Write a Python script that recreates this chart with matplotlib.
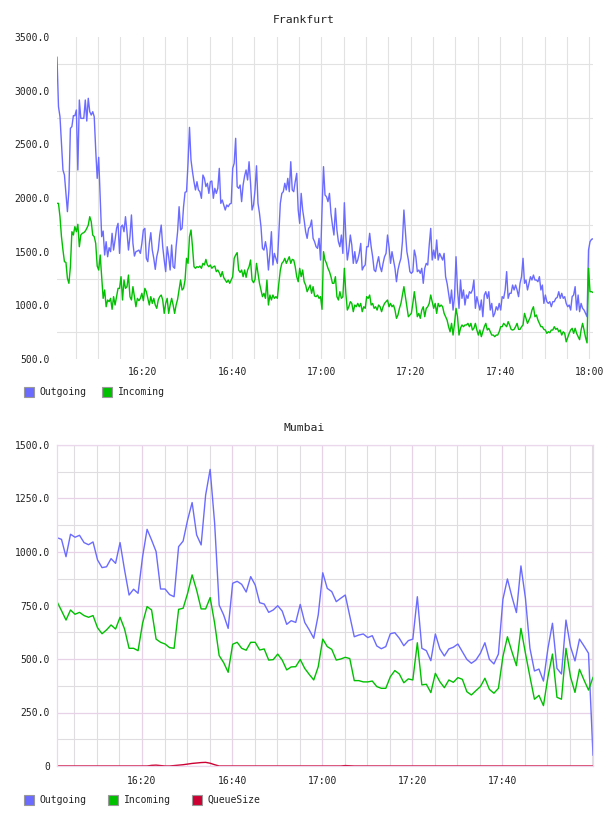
import numpy as np
import pandas as pd
import matplotlib
matplotlib.use("Agg")
import matplotlib.pyplot as plt
import matplotlib.dates as mdates
from matplotlib.patches import Rectangle
from matplotlib.ticker import FixedLocator, FuncFormatter

# ---------------- data ----------------
fr_title = "Frankfurt"
mb_title = "Mumbai"
series_names = ["Outgoing", "Incoming", "QueueSize"]

fr_start = "2000-01-01 16:00:48"   # 20 s samples
fr_out = [
    3311,2851,2758,2509,2261,2214,2043,1873,2075,2649,
    2665,2767,2767,2820,2261,2913,2742,2742,2742,2913,
    2717,2929,2804,2773,2804,2758,2447,2183,2379,2012,
    1640,1692,1469,1593,1453,1537,1500,1671,1515,1609,
    1717,1764,1484,1733,1748,1686,1826,1686,1515,1640,
    1842,1577,1459,1500,1506,1515,1484,1577,1702,1717,
    1438,1407,1577,1677,1515,1438,1335,1453,1515,1655,
    1748,1546,1422,1314,1546,1453,1329,1562,1360,1345,
    1546,1686,1919,1702,1717,1919,2053,2059,2323,2658,
    2354,2245,2152,2075,2152,2075,2059,1997,2214,2183,
    2106,2137,2043,2152,2158,1997,2090,2043,2090,2276,
    1950,1981,1935,1888,1935,1919,1944,1950,2276,2323,
    2556,2106,2090,2121,1966,2121,2205,2261,2168,2338,
    2137,1888,1935,2075,2300,1950,1857,1733,1531,1515,
    1593,1515,1329,1484,1686,1376,1484,1438,1391,1671,
    1950,2043,2059,2137,2075,2183,2059,2338,2075,2059,
    2152,2230,1888,1764,2043,1888,1795,1686,1624,1717,
    1733,1795,1624,1593,1546,1531,1624,1422,1888,2292,
    2028,2012,1966,2043,1857,1748,1655,1904,1702,1593,
    1546,1655,1484,1956,1640,1422,1515,1655,1562,1391,
    1500,1391,1422,1484,1577,1329,1360,1376,1546,1546,
    1671,1546,1453,1329,1314,1391,1453,1360,1314,1391,
    1453,1484,1655,1546,1391,1500,1422,1345,1220,1329,
    1391,1438,1593,1888,1686,1500,1422,1314,1298,1314,
    1515,1453,1314,1329,1298,1345,1205,1345,1391,1376,
    1562,1717,1422,1515,1438,1609,1422,1484,1453,1422,
    1484,1267,1205,1112,1018,1143,956,1081,1453,1143,
    972,1236,1065,1143,1003,1096,1065,1127,1112,1143,
    1236,972,1081,1018,956,1050,894,1096,1127,1065,
    1127,956,1018,894,925,987,956,1018,956,1081,
    1065,1143,1314,1065,1112,1112,1189,1143,1189,1143,
    1081,1205,1267,1438,1205,1236,1143,1205,1267,1236,
    1282,1236,1236,1220,1267,1143,1189,1018,1096,1034,
    1018,1034,987,1034,1034,1065,1074,1127,1065,1112,
    1065,1081,1018,987,1003,956,1081,1096,1174,956,
    1096,941,1018,972,956,925,894,1515,1593,1615,
    1620,
]
fr_in = [
    1950,1950,1826,1640,1515,1407,1400,1251,1205,1360,
    1686,1655,1733,1686,1755,1546,1655,1671,1677,1692,
    1717,1748,1826,1779,1655,1640,1577,1366,1329,1469,
    1267,1065,1143,987,1050,1034,1065,963,1081,1003,
    1081,1158,1158,1267,1050,1236,1158,1174,1282,1081,
    1050,1174,1081,987,1065,1043,1065,1112,1043,1158,
    1127,1065,1003,1081,1018,1065,1003,972,1050,1081,
    1096,1050,925,1018,1065,925,1003,1065,1003,925,
    1003,1056,1143,1236,1143,1158,1236,1438,1391,1640,
    1702,1546,1360,1345,1360,1354,1366,1345,1391,1376,
    1428,1376,1360,1376,1345,1360,1366,1314,1329,1304,
    1267,1314,1258,1236,1214,1236,1205,1236,1267,1438,
    1469,1491,1329,1307,1329,1267,1329,1261,1329,1360,
    1422,1236,1211,1242,1391,1298,1205,1143,1081,1112,
    1065,1236,1003,1096,1050,1096,1065,1081,1065,1205,
    1329,1391,1407,1438,1391,1422,1453,1391,1428,1422,
    1360,1267,1220,1345,1267,1329,1220,1189,1127,1158,
    1189,1112,1174,1087,1081,1096,1065,1081,963,1500,
    1422,1391,1345,1314,1267,1205,1205,1267,1081,1050,
    1127,1065,1081,1345,1112,956,987,1034,1018,941,
    1003,987,1018,987,1018,941,987,972,1081,1065,
    1096,1003,1018,972,987,956,1003,987,941,987,
    1018,1034,1050,987,1018,987,1003,956,879,910,
    972,1018,1096,1174,1081,987,894,910,925,1018,
    1127,1018,894,925,879,956,987,894,972,987,
    1018,1096,1034,972,1018,925,1018,987,1003,987,
    925,894,863,801,754,832,723,832,972,894,
    723,786,817,801,817,817,832,801,832,770,
    786,832,770,723,770,708,754,801,832,770,
    786,754,723,723,708,723,723,754,801,801,
    832,817,801,848,817,776,770,776,801,832,
    776,776,801,817,925,879,832,863,894,956,
    987,894,910,863,832,801,801,776,770,739,
    754,745,770,770,801,776,786,754,770,723,
    754,739,660,700,739,770,786,739,786,739,
    708,680,770,832,770,700,650,1345,1127,1127,
    1120,
]

mb_start = "2000-01-01 16:01:08"   # 1 min samples
mb_out = [
    1067,1059,978,1083,1069,1078,1044,1034,1047,963,
    927,931,969,947,1044,916,799,826,807,978,
    1106,1056,1002,827,827,801,791,1025,1051,1150,
    1231,1080,1033,1266,1386,1134,752,706,643,854,
    863,849,813,885,846,763,757,718,729,749,
    724,662,679,671,755,671,636,597,706,903,
    830,815,768,784,799,701,604,612,617,600,
    609,561,548,558,618,623,597,562,586,593,
    791,550,539,492,617,547,514,547,555,570,
    534,498,480,495,527,576,498,477,523,779,
    874,791,717,935,784,550,444,453,397,550,
    667,456,430,682,558,491,593,561,527,51,
]
mb_in = [
    768,726,682,729,709,718,703,695,703,646,
    618,636,659,640,695,640,550,550,539,667,
    745,729,593,578,570,553,550,732,737,807,
    893,822,734,734,787,667,516,483,438,569,
    578,550,541,578,578,542,547,495,497,523,
    495,449,463,464,498,456,428,402,464,593,
    558,545,495,500,508,502,399,399,393,393,
    397,371,363,363,417,446,430,389,407,402,
    576,379,382,343,433,394,366,402,391,413,
    405,347,332,352,371,410,358,340,363,511,
    604,534,469,643,527,417,312,330,282,417,
    523,321,312,550,417,344,452,402,355,414,
]
mb_queue = [
    0,0,0,0,0,0,0,0,0,0,
    0,0,0,0,0,0,0,0,0,0,
    0,3,4,2,0,0,2,4,6,9,
    12,14,16,17,13,6,0,0,0,0,
    0,0,0,0,0,0,0,0,0,0,
    0,0,0,0,0,0,0,0,0,0,
    0,0,0,0,2,1,0,0,0,0,
    0,0,0,0,0,0,0,0,0,0,
    0,0,0,0,0,0,0,0,0,0,
    0,0,0,0,0,0,0,0,0,0,
    0,0,0,0,0,0,0,0,0,0,
    0,0,0,0,0,0,0,0,0,0,
]

fr_yticks = [500, 1000, 1500, 2000, 2500, 3000, 3500]
fr_ygrid = [750, 1250, 1750, 2250, 2750, 3250]
mb_yticks = [0, 250, 500, 750, 1000, 1250, 1500]
mb_yminor = [125, 375, 625, 875, 1125, 1375]
fr_xlabels = ["16:20", "16:40", "17:00", "17:20", "17:40", "18:00"]
mb_xlabels = ["16:20", "16:40", "17:00", "17:20", "17:40"]

# ---------------- style ----------------
C_OUT = "#6b6bff"
C_IN = "#00c000"
C_Q = "#cc0033"
FONT = "DejaVu Sans Mono"
TXT = "#222222"

W, H = 608, 816
fig = plt.figure(figsize=(W / 100, H / 100), dpi=100)
fig.patch.set_facecolor("white")


def fx(px):
    return px / W


def fy(py):
    return 1 - py / H


def tlist(labels):
    return mdates.date2num([pd.Timestamp("2000-01-01 " + s) for s in labels])


def yfmt(v, pos):
    return "0" if abs(v) < 1e-9 else f"{v:.1f}"


def style_axes(ax, xlabels, xlim):
    ax.xaxis.set_major_locator(FixedLocator(tlist(xlabels)))
    ax.xaxis.set_major_formatter(FuncFormatter(lambda v, p: mdates.num2date(v).strftime("%H:%M")))
    ax.xaxis.set_minor_locator(mdates.MinuteLocator(byminute=range(0, 60, 5)))
    ax.yaxis.set_major_formatter(FuncFormatter(yfmt))
    ax.tick_params(which="both", length=0, labelsize=7, colors=TXT)
    for lab in ax.get_xticklabels() + ax.get_yticklabels():
        lab.set_family(FONT)
    ax.set_xlim(*xlim)
    ax.set_axisbelow(True)


# ---------------- Frankfurt ----------------
fr_t = pd.date_range(fr_start, periods=len(fr_out), freq="20s")
ax1 = fig.add_axes([fx(57), fy(359), fx(593) - fx(57), fy(37) - fy(359)])
ax1.plot(fr_t, fr_out, color=C_OUT, lw=1.0)
ax1.plot(fr_t, fr_in, color=C_IN, lw=1.0)
ax1.set_ylim(500, 3500)
ax1.set_yticks(fr_yticks)
ax1.set_yticks(fr_ygrid, minor=True)
ax1.yaxis.grid(True, which="minor", color="#e2e2e2", lw=0.8)
ax1.xaxis.grid(True, which="both", color="#e2e2e2", lw=0.8)
style_axes(ax1, fr_xlabels, (mdates.date2num(fr_t[0]), mdates.date2num(fr_t[-1])))
ax1.tick_params(axis="y", pad=5)
ax1.tick_params(axis="x", pad=6)
for s in ax1.spines.values():
    s.set_visible(False)
ax1.yaxis.set_minor_formatter(FuncFormatter(lambda v, p: ""))

# ---------------- Mumbai ----------------
mb_t = pd.date_range(mb_start, periods=len(mb_out), freq="60s")
ax2 = fig.add_axes([fx(57), fy(766), fx(593) - fx(57), fy(445) - fy(766)])
ax2.plot(mb_t, mb_out, color=C_OUT, lw=1.0)
ax2.plot(mb_t, mb_in, color=C_IN, lw=1.0)
ax2.plot(mb_t, mb_queue, color=C_Q, lw=1.0)
ax2.set_ylim(0, 1500)
ax2.set_yticks(mb_yticks)
ax2.set_yticks(mb_yminor, minor=True)
ax2.yaxis.set_minor_formatter(FuncFormatter(lambda v, p: ""))
ax2.grid(True, which="minor", color="#e0dde0", lw=0.8)
ax2.grid(True, which="major", color="#e8d2e8", lw=0.9)
style_axes(ax2, mb_xlabels, (mdates.date2num(mb_t[0]), mdates.date2num(mb_t[-1])))
ax2.tick_params(axis="y", pad=5)
ax2.tick_params(axis="x", pad=7)
for s in ax2.spines.values():
    s.set_color("#ecd8ec")
    s.set_linewidth(0.9)

# ---------------- titles ----------------
fig.text(fx(304), fy(20), fr_title, ha="center", va="center", fontsize=8.2, family=FONT, color=TXT)
fig.text(fx(304), fy(428), mb_title, ha="center", va="center", fontsize=8.2, family=FONT, color=TXT)


# ---------------- legends ----------------
def legend(items, y):
    for x_box, x_txt, name, col in items:
        fig.add_artist(Rectangle((fx(x_box), fy(y + 5)), fx(10), 10 / H,
                                 transform=fig.transFigure, facecolor=col,
                                 edgecolor="#999999", lw=0.8))
        fig.text(fx(x_txt), fy(y), name, ha="left", va="center", fontsize=7,
                 family=FONT, color=TXT)


legend([(24, 39, series_names[0], C_OUT), (102, 118, series_names[1], C_IN)], 392)
legend([(24, 39, series_names[0], C_OUT), (108, 124, series_names[1], C_IN),
        (192, 207, series_names[2], C_Q)], 800)

fig.savefig("out.png", dpi=100, facecolor="white")
